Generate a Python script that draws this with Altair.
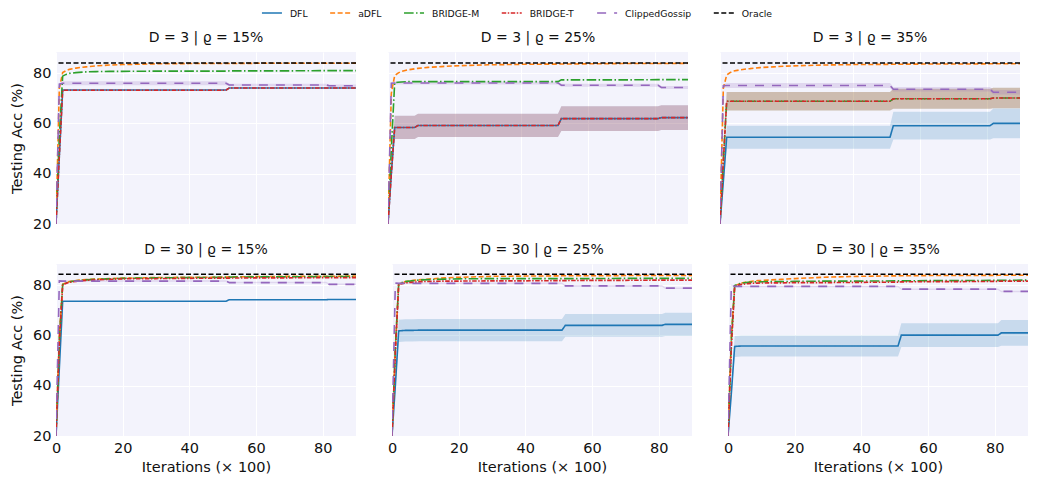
import altair as alt
import pandas as pd

# ---------------- data ----------------
X = [0, 1, 2, 3, 4, 6, 8, 9, 12, 16, 20, 30, 40, 51, 52, 60, 70, 81, 82, 90]

SERIES = ["DFL", "aDFL", "BRIDGE-M", "BRIDGE-T", "ClippedGossip", "Oracle"]
COLORS = ["#1f77b4", "#ff7f0e", "#2ca02c", "#d62728", "#9467bd", "#000000"]
DASHES = [[1, 0], [5, 2.5], [9.6, 2.4, 1.5, 2.4], [4.5, 1.5, 1.5, 1.5], [9, 8], [5, 2.5]]

TITLES = ["D = 3  | ϱ = 15%", "D = 3  | ϱ = 25%", "D = 3  | ϱ = 35%",
          "D = 30 | ϱ = 15%", "D = 30 | ϱ = 25%", "D = 30 | ϱ = 35%"]
ORACLE = [84.0, 84.0, 84.0, 84.3, 84.3, 84.3]

# Panel A: D=3, 15%
A_DFL = [20, 47, 73.3, 73.3, 73.3, 73.3, 73.3, 73.3, 73.3, 73.3, 73.3, 73.3, 73.3, 73.3, 74.1, 74.1, 74.1, 74.1, 74.1, 74.1]
A_ADFL = [20, 74, 80.2, 81.0, 81.5, 82.0, 82.35, 82.5, 82.9, 83.2, 83.4, 83.7, 83.8, 83.8, 83.8, 83.9, 83.9, 83.9, 83.9, 83.9]
A_BM = [20, 55, 78.8, 79.5, 79.9, 80.2, 80.4, 80.5, 80.6, 80.7, 80.7, 80.8, 80.8, 80.8, 80.9, 80.9, 80.9, 81.0, 81.0, 81.0]
A_BT = [20, 47, 73.2, 73.2, 73.2, 73.2, 73.2, 73.2, 73.2, 73.2, 73.2, 73.2, 73.2, 73.2, 74.1, 74.1, 74.1, 74.1, 74.1, 74.1]
A_CG = [20, 75.6, 76.0, 76.0, 76.0, 76.0, 76.0, 76.0, 76.0, 76.0, 76.0, 76.0, 76.0, 76.0, 75.3, 75.3, 75.3, 75.3, 75.0, 75.0]
A_CG_SD = [0, 0.5, 0.8, 0.8, 0.8, 0.8, 0.8, 0.8, 0.8, 0.8, 0.8, 0.8, 0.8, 0.8, 0.5, 0.5, 0.5, 0.5, 0.5, 0.5]

# Panel B: D=3, 25%
B_DFL = [20, 40, 58.4, 58.4, 58.4, 58.4, 58.4, 59.2, 59.2, 59.2, 59.2, 59.2, 59.2, 59.2, 61.9, 61.9, 61.9, 61.9, 62.3, 62.3]
B_DFL_SD = [0, 2, 4.6, 4.6, 4.6, 4.6, 4.6, 4.6, 4.6, 4.6, 4.6, 4.6, 4.6, 4.6, 4.9, 4.9, 4.9, 4.9, 4.9, 4.9]
B_ADFL = [20, 72, 79.0, 80.0, 80.7, 81.3, 81.7, 81.9, 82.3, 82.6, 82.9, 83.3, 83.5, 83.6, 83.6, 83.7, 83.8, 83.8, 83.8, 83.9]
B_BM = [20, 50, 76.2, 76.4, 76.5, 76.6, 76.6, 76.6, 76.6, 76.6, 76.6, 76.6, 76.6, 76.6, 77.3, 77.3, 77.3, 77.4, 77.4, 77.4]
B_BT = [20, 40, 58.4, 58.4, 58.4, 58.4, 58.4, 59.2, 59.2, 59.2, 59.2, 59.2, 59.2, 59.2, 61.9, 61.9, 61.9, 61.9, 62.3, 62.3]
B_BT_SD = [0, 2, 4.6, 4.6, 4.6, 4.6, 4.6, 4.6, 4.6, 4.6, 4.6, 4.6, 4.6, 4.6, 4.9, 4.9, 4.9, 4.9, 4.9, 4.9]
B_CG = [20, 76.0, 76.1, 76.1, 76.1, 76.1, 76.1, 76.1, 76.1, 76.1, 76.1, 76.1, 76.1, 76.1, 75.2, 75.2, 75.2, 75.2, 74.3, 74.3]
B_CG_SD = [0, 0.4, 0.6, 0.6, 0.6, 0.6, 0.6, 0.6, 0.6, 0.6, 0.6, 0.6, 0.6, 0.6, 0.6, 0.6, 0.6, 0.6, 0.6, 0.6]

# Panel C: D=3, 35%
C_DFL = [20, 37, 54.5, 54.5, 54.5, 54.5, 54.5, 54.5, 54.5, 54.5, 54.5, 54.5, 54.5, 54.5, 59.1, 59.1, 59.1, 59.1, 60.0, 60.0]
C_DFL_SD = [0, 2, 4.6, 4.6, 4.6, 4.6, 4.6, 4.6, 4.6, 4.6, 4.6, 4.6, 4.6, 4.6, 5.5, 5.5, 5.5, 5.5, 5.9, 5.9]
C_ADFL = [20, 74, 79.2, 80.2, 80.8, 81.3, 81.7, 81.8, 82.2, 82.5, 82.8, 83.2, 83.4, 83.5, 83.5, 83.6, 83.6, 83.7, 83.7, 83.7]
C_BM = [20, 45, 68.8, 68.8, 68.8, 68.8, 68.8, 68.8, 68.8, 68.8, 68.8, 68.8, 68.8, 68.8, 69.8, 69.8, 69.8, 69.8, 70.1, 70.1]
C_BM_SD = [0, 2, 3.7, 3.7, 3.7, 3.7, 3.7, 3.7, 3.7, 3.7, 3.7, 3.7, 3.7, 3.7, 4.0, 4.0, 4.0, 4.0, 4.1, 4.1]
C_BT = [20, 45, 68.8, 68.8, 68.8, 68.8, 68.8, 68.8, 68.8, 68.8, 68.8, 68.8, 68.8, 68.8, 69.8, 69.8, 69.8, 69.8, 70.1, 70.1]
C_BT_SD = [0, 2, 3.7, 3.7, 3.7, 3.7, 3.7, 3.7, 3.7, 3.7, 3.7, 3.7, 3.7, 3.7, 4.0, 4.0, 4.0, 4.0, 4.1, 4.1]
C_CG = [20, 75.0, 75.1, 75.1, 75.1, 75.1, 75.1, 75.1, 75.1, 75.1, 75.1, 75.1, 75.1, 75.1, 73.6, 73.6, 73.6, 73.6, 72.4, 72.4]
C_CG_SD = [0, 0.6, 1.0, 1.0, 1.0, 1.0, 1.0, 1.0, 1.0, 1.0, 1.0, 1.0, 1.0, 1.0, 0.9, 0.9, 0.9, 0.9, 0.9, 0.9]

# Panel D: D=30, 15%
D_DFL = [20, 47, 73.6, 73.6, 73.6, 73.6, 73.6, 73.6, 73.6, 73.6, 73.6, 73.6, 73.6, 73.6, 74.2, 74.2, 74.2, 74.2, 74.3, 74.3]
D_ADFL = [20, 60, 80.3, 81.0, 81.4, 81.8, 82.1, 82.2, 82.4, 82.6, 82.8, 83.0, 83.1, 83.2, 83.3, 83.4, 83.5, 83.5, 83.5, 83.6]
D_BM = [20, 58, 80.2, 80.9, 81.3, 81.7, 82.0, 82.1, 82.3, 82.5, 82.7, 82.9, 83.0, 83.1, 83.2, 83.3, 83.3, 83.4, 83.4, 83.4]
D_BT = [20, 57, 80.0, 80.7, 81.1, 81.5, 81.8, 81.9, 82.1, 82.3, 82.5, 82.6, 82.7, 82.8, 82.8, 82.9, 82.9, 83.0, 83.0, 83.0]
D_CG = [20, 81.7, 81.6, 81.6, 81.6, 81.6, 81.6, 81.6, 81.6, 81.6, 81.6, 81.6, 81.6, 81.6, 81.0, 81.0, 81.0, 81.0, 80.3, 80.3]
D_CG_SD = [0, 0.2, 0.3, 0.3, 0.3, 0.3, 0.3, 0.3, 0.3, 0.3, 0.3, 0.3, 0.3, 0.3, 0.3, 0.3, 0.3, 0.3, 0.3, 0.3]

# Panel E: D=30, 25%
E_DFL = [20, 40, 61.8, 61.9, 62.0, 62.0, 62.1, 62.1, 62.1, 62.1, 62.1, 62.1, 62.1, 62.1, 64.0, 64.0, 64.0, 64.0, 64.4, 64.4]
E_DFL_SD = [0, 2, 4.4, 4.4, 4.4, 4.4, 4.4, 4.4, 4.4, 4.4, 4.4, 4.4, 4.4, 4.4, 4.5, 4.5, 4.5, 4.5, 4.65, 4.65]
E_ADFL = [20, 55, 80.3, 81.0, 81.4, 81.8, 82.1, 82.2, 82.5, 82.9, 83.1, 83.5, 83.6, 83.7, 83.7, 83.7, 83.8, 83.8, 83.8, 83.8]
E_BM = [20, 55, 80.4, 81.0, 81.4, 81.7, 82.0, 82.1, 82.2, 82.4, 82.5, 82.6, 82.6, 82.6, 82.6, 82.6, 82.7, 82.7, 82.7, 82.7]
E_BT = [20, 53, 80.0, 80.6, 80.9, 81.1, 81.3, 81.4, 81.5, 81.6, 81.6, 81.7, 81.7, 81.8, 81.8, 81.9, 81.9, 82.0, 82.0, 82.0]
E_CG = [20, 80.8, 80.7, 80.7, 80.7, 80.7, 80.7, 80.7, 80.7, 80.7, 80.7, 80.7, 80.7, 80.7, 79.7, 79.7, 79.7, 79.7, 78.8, 78.8]
E_CG_SD = [0, 0.2, 0.3, 0.3, 0.3, 0.3, 0.3, 0.3, 0.3, 0.3, 0.3, 0.3, 0.3, 0.3, 0.3, 0.3, 0.3, 0.3, 0.3, 0.3]

# Panel F: D=30, 35%
F_DFL = [20, 37, 55.6, 55.7, 55.8, 55.8, 55.8, 55.8, 55.8, 55.8, 55.8, 55.8, 55.8, 55.8, 60.1, 60.1, 60.1, 60.1, 61.0, 61.0]
F_DFL_SD = [0, 2, 4.15, 4.15, 4.15, 4.15, 4.15, 4.15, 4.15, 4.15, 4.15, 4.15, 4.15, 4.15, 4.7, 4.7, 4.7, 4.7, 5.1, 5.1]
F_ADFL = [20, 60, 79.6, 80.3, 80.8, 81.3, 81.7, 81.8, 82.0, 82.3, 82.6, 83.2, 83.5, 83.7, 83.7, 83.8, 83.8, 83.9, 83.9, 83.9]
F_BM = [20, 58, 79.8, 80.4, 80.8, 81.1, 81.3, 81.3, 81.4, 81.4, 81.5, 81.6, 81.6, 81.7, 81.7, 81.8, 81.8, 81.9, 81.9, 82.0]
F_BT = [20, 55, 79.4, 79.9, 80.3, 80.6, 80.8, 80.8, 80.9, 80.9, 81.0, 81.0, 81.1, 81.2, 81.3, 81.4, 81.4, 81.5, 81.6, 81.6]
F_CG = [20, 80.0, 79.5, 79.5, 79.5, 79.5, 79.5, 79.5, 79.5, 79.5, 79.5, 79.5, 79.5, 79.5, 78.4, 78.4, 78.4, 78.4, 77.5, 77.5]
F_CG_SD = [0, 0.2, 0.3, 0.3, 0.3, 0.3, 0.3, 0.3, 0.3, 0.3, 0.3, 0.3, 0.3, 0.3, 0.3, 0.3, 0.3, 0.3, 0.3, 0.3]

MEANS = [
    {"DFL": A_DFL, "aDFL": A_ADFL, "BRIDGE-M": A_BM, "BRIDGE-T": A_BT, "ClippedGossip": A_CG},
    {"DFL": B_DFL, "aDFL": B_ADFL, "BRIDGE-M": B_BM, "BRIDGE-T": B_BT, "ClippedGossip": B_CG},
    {"DFL": C_DFL, "aDFL": C_ADFL, "BRIDGE-M": C_BM, "BRIDGE-T": C_BT, "ClippedGossip": C_CG},
    {"DFL": D_DFL, "aDFL": D_ADFL, "BRIDGE-M": D_BM, "BRIDGE-T": D_BT, "ClippedGossip": D_CG},
    {"DFL": E_DFL, "aDFL": E_ADFL, "BRIDGE-M": E_BM, "BRIDGE-T": E_BT, "ClippedGossip": E_CG},
    {"DFL": F_DFL, "aDFL": F_ADFL, "BRIDGE-M": F_BM, "BRIDGE-T": F_BT, "ClippedGossip": F_CG},
]
SDS = [
    {"ClippedGossip": A_CG_SD},
    {"DFL": B_DFL_SD, "BRIDGE-T": B_BT_SD, "ClippedGossip": B_CG_SD},
    {"DFL": C_DFL_SD, "BRIDGE-M": C_BM_SD, "BRIDGE-T": C_BT_SD, "ClippedGossip": C_CG_SD},
    {"ClippedGossip": D_CG_SD},
    {"DFL": E_DFL_SD, "ClippedGossip": E_CG_SD},
    {"DFL": F_DFL_SD, "ClippedGossip": F_CG_SD},
]

# ---------------- chart ----------------
FONT = "DejaVu Sans"
TXT = "#111111"
BG = "#F3F3FC"
W, H = 300, 172
xs = alt.Scale(domain=[0, 90], nice=False, zero=False)
ys = alt.Scale(domain=[20, 88.4], nice=False, zero=False)
stroke_scale = alt.Scale(domain=SERIES, range=COLORS)
fill_scale = alt.Scale(domain=SERIES, range=COLORS)
dash_scale = alt.Scale(domain=SERIES, range=DASHES)


def panel(i, show_x, show_y):
    if show_x:
        xaxis = alt.Axis(values=[0, 20, 40, 60, 80], title="Iterations (× 100)", labelFlush=False,
                         ticks=False, domain=False, labelPadding=5, titlePadding=6, grid=True)
    else:
        xaxis = alt.Axis(values=[0, 20, 40, 60, 80], labels=False, title=None, ticks=False,
                         domain=False, grid=True, minExtent=0, maxExtent=0)
    if show_y:
        yaxis = alt.Axis(values=[20, 40, 60, 80], title="Testing Acc (%)", labelFlush=False,
                         ticks=False, domain=False, labelPadding=5, titlePadding=8, grid=True)
    else:
        yaxis = alt.Axis(values=[20, 40, 60, 80], labels=False, title=None, ticks=False,
                         domain=False, grid=True, minExtent=0, maxExtent=0)

    brows = []
    for s, sd in SDS[i].items():
        for x, m, d in zip(X, MEANS[i][s], sd):
            brows.append({"x": x, "lo": m - d, "hi": m + d, "series": s})
    layers = []
    if brows:
        layers.append(
            alt.Chart(pd.DataFrame(brows)).mark_area(opacity=0.2, clip=True).encode(
                x=alt.X("x:Q", scale=xs, axis=xaxis),
                y=alt.Y("lo:Q", scale=ys, axis=yaxis),
                y2="hi:Q",
                fill=alt.Fill("series:N", scale=fill_scale, legend=None),
                detail="series:N",
            )
        )
    for s in SERIES[:-1]:
        df = pd.DataFrame({"x": X, "y": MEANS[i][s], "series": s})
        layers.append(
            alt.Chart(df).mark_line(strokeWidth=1.6, clip=True).encode(
                x=alt.X("x:Q", scale=xs, axis=xaxis),
                y=alt.Y("y:Q", scale=ys, axis=yaxis),
                stroke=alt.Stroke("series:N", scale=stroke_scale, legend=None),
                strokeDash=alt.StrokeDash("series:N", scale=dash_scale, legend=None),
            )
        )
    odf = pd.DataFrame({"y": [ORACLE[i]], "series": ["Oracle"]})
    layers.append(
        alt.Chart(odf).mark_rule(strokeWidth=1.6).encode(
            y=alt.Y("y:Q", scale=ys, axis=yaxis),
            stroke=alt.Stroke("series:N", scale=stroke_scale, legend=None),
            strokeDash=alt.StrokeDash("series:N", scale=dash_scale, legend=None),
        )
    )
    return alt.layer(*layers).properties(
        width=W, height=H,
        view=alt.ViewBackground(fill=BG, stroke=None),
        title=alt.TitleParams(TITLES[i], fontSize=14, font=FONT, fontWeight=400,
                              color=TXT, offset=7),
    )


# ---- legend row (laid out from approximate DejaVu Sans glyph widths) ----
GLYPH_EM = {"D": 0.770, "F": 0.575, "L": 0.557, "a": 0.613, "B": 0.686, "R": 0.695, "I": 0.295,
            "G": 0.775, "E": 0.632, "-": 0.361, "M": 0.863, "T": 0.611, "C": 0.698, "l": 0.278,
            "i": 0.278, "p": 0.635, "e": 0.615, "d": 0.635, "o": 0.612, "s": 0.521, "O": 0.787,
            "r": 0.411, "c": 0.550}
LFS = 9.3     # legend font size
HANDLE = 20   # handle length
TPAD = 8      # handle-text pad
CSP = 22.5    # column spacing
LEG_ORIGIN = 56     # page x of the legend row's origin
LEG_CENTER = 517    # page x of the legend's centre
LW = 950
label_w = [sum(GLYPH_EM.get(ch, 0.6) for ch in s) * LFS for s in SERIES]
total = sum(label_w) + len(SERIES) * (HANDLE + TPAD) + (len(SERIES) - 1) * CSP
cur = LEG_CENTER - LEG_ORIGIN - total / 2
leg_rows = []
for s, lw in zip(SERIES, label_w):
    leg_rows.append({"series": s, "x0": cur, "x1": cur + HANDLE, "tx": cur + HANDLE + TPAD})
    cur += HANDLE + TPAD + lw + CSP
leg_df = pd.DataFrame(leg_rows)
lxs = alt.Scale(domain=[0, LW], nice=False, zero=False)
leg_base = alt.Chart(leg_df)
leg_sym = leg_base.mark_rule(strokeWidth=1.6).encode(
    x=alt.X("x0:Q", scale=lxs, axis=None),
    x2="x1:Q",
    y=alt.value(5),
    stroke=alt.Stroke("series:N", scale=stroke_scale, legend=None),
    strokeDash=alt.StrokeDash("series:N", scale=dash_scale, legend=None),
)
leg_txt = leg_base.mark_text(align="left", baseline="middle", font=FONT, fontSize=LFS, color=TXT).encode(
    x=alt.X("tx:Q", scale=lxs, axis=None),
    y=alt.value(5.5),
    text="series:N",
)
legend = alt.layer(leg_sym, leg_txt).properties(
    width=LW, height=10, view=alt.ViewBackground(fill="white", stroke=None)
)

top = alt.hconcat(panel(0, False, True), panel(1, False, False), panel(2, False, False), spacing=30)
bot = alt.hconcat(panel(3, True, True), panel(4, True, False), panel(5, True, False), spacing=30)

chart = alt.vconcat(legend, top, bot, spacing=12).properties(
    padding={"left": 1, "top": 0, "right": 0, "bottom": 0}
).configure_view(
    stroke=None
).configure_title(
    fontWeight=400, font=FONT, fontSize=14, color=TXT
).configure_axis(
    labelFont=FONT, titleFont=FONT, labelFontSize=14.5, titleFontSize=14.5,
    labelColor=TXT, titleColor=TXT, titleFontWeight="normal",
    gridColor="white", gridWidth=1.1, gridOpacity=1,
)

chart.save("out.html", embed_options={"renderer": "svg", "actions": False})
